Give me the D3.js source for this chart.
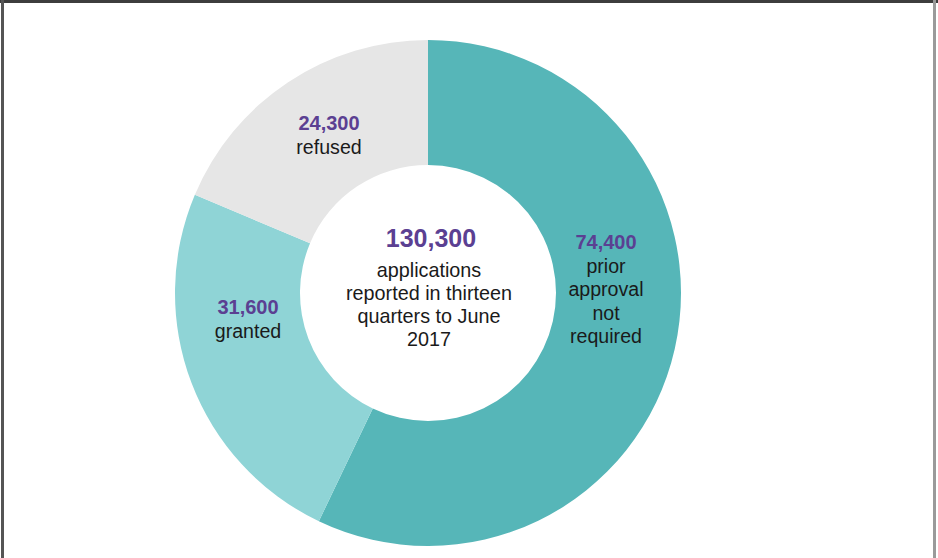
<!DOCTYPE html>
<html><head><meta charset="utf-8">
<script src="https://cdn.jsdelivr.net/npm/d3@7"></script>
<style>html,body{margin:0;padding:0;background:#fff;}svg{display:block;}</style>
</head><body>
<svg id="c" width="938" height="558"></svg>
<script>
const categories = ["prior approval not required", "granted", "refused"];
const values = [74400, 31600, 24300];
const valueLabels = ["74,400", "31,600", "24,300"];
const labelLines = [["prior", "approval", "not", "required"], ["granted"], ["refused"]];
const colors = ["#56b6b8", "#8fd4d6", "#e6e6e6"];
const totalLabel = "130,300";
const centerLines = ["applications", "reported in thirteen", "quarters to June", "2017"];

const svg = d3.select("#c");
const W = 938, H = 558;
const cx = 428, cy = 293, R = 253, r = 128;
const font = "'Liberation Sans', Arial, Helvetica, sans-serif";

// frame
svg.append("rect").attr("x", 0).attr("y", 0).attr("width", W).attr("height", 3).attr("fill", "#3d3d3d");
svg.append("rect").attr("x", 1).attr("y", 0).attr("width", 3).attr("height", H).attr("fill", "#555");
svg.append("rect").attr("x", 933).attr("y", 0).attr("width", 3).attr("height", H).attr("fill", "#9a9a9a");

const pie = d3.pie().sort(null).value(d => d)(values);
const arc = d3.arc().innerRadius(r).outerRadius(R);
const g = svg.append("g").attr("transform", `translate(${cx},${cy})`);
g.selectAll("path").data(pie).join("path")
  .attr("d", arc).attr("fill", (d, i) => colors[i]);

// label anchor positions (offset from center), estimated from reference
const labelPos = [[178, -44], [-180, 21], [-99, -163]];
const lh = 23.5;
pie.forEach((d, i) => {
  const [lx, ly] = labelPos[i];
  const t = g.append("text").attr("text-anchor", "middle").attr("font-family", font);
  t.append("tspan").attr("x", lx).attr("y", ly).attr("font-weight", "bold")
    .attr("font-size", 20).attr("fill", "#5b4092").text(valueLabels[i]);
  labelLines[i].forEach((ln, j) => {
    t.append("tspan").attr("x", lx).attr("y", ly + lh * (j + 1))
      .attr("font-size", 19.6).attr("fill", "#1a1a1a").text(ln);
  });
});

const ct = g.append("text").attr("text-anchor", "middle").attr("font-family", font);
ct.append("tspan").attr("x", 3).attr("y", -46).attr("font-weight", "bold")
  .attr("font-size", 25).attr("fill", "#5b4092").text(totalLabel);
centerLines.forEach((ln, j) => {
  ct.append("tspan").attr("x", 1).attr("y", -16 + 22.9 * j)
    .attr("font-size", 19.8).attr("fill", "#1a1a1a").text(ln);
});
</script>
</body></html>
